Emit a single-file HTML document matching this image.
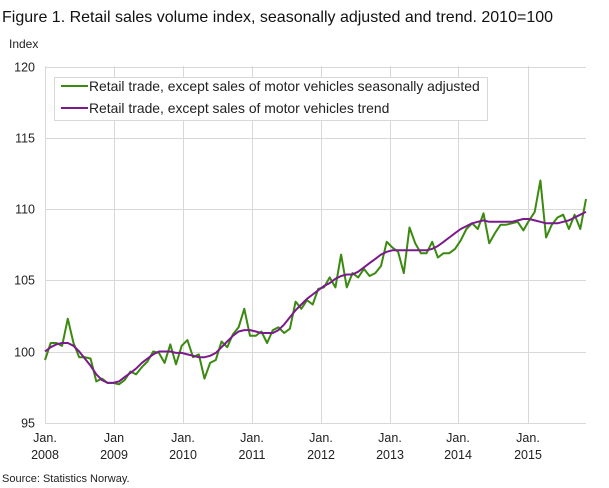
<!DOCTYPE html>
<html><head><meta charset="utf-8"><style>
body{margin:0;background:#fff;}
svg{display:block;font-family:"Liberation Sans",sans-serif;}
</style></head><body>
<svg id="s" width="609" height="488" xmlns="http://www.w3.org/2000/svg">
<text x="2" y="22" font-size="16" fill="#111">Figure 1. Retail sales volume index, seasonally adjusted and trend. 2010=100</text>
<text x="9" y="48" font-size="12" fill="#222">Index</text>
<g id="grid" stroke="#d8d8d8" stroke-width="1"></g>
<g id="lab" font-size="12.5" fill="#222"></g>
<polyline id="g" fill="none" stroke="#3a8a0f" stroke-width="2" stroke-linejoin="round"/>
<polyline id="p" fill="none" stroke="#7a1a8c" stroke-width="2" stroke-linejoin="round"/>
<rect x="54.5" y="77.5" width="433" height="43" fill="#fff" stroke="#d8d8d8"/>
<line x1="61" y1="86" x2="88" y2="86" stroke="#3a8a0f" stroke-width="2"/>
<text x="89" y="91" font-size="13.9" fill="#222">Retail trade, except sales of motor vehicles seasonally adjusted</text>
<line x1="61" y1="108" x2="88" y2="108" stroke="#7a1a8c" stroke-width="2"/>
<text x="89" y="113" font-size="13.9" fill="#222">Retail trade, except sales of motor vehicles trend</text>
<text x="2" y="482" font-size="11" fill="#222">Source: Statistics Norway.</text>
</svg>
<script>
var gv=[99.4,100.6,100.6,100.4,102.3,100.6,99.6,99.6,99.5,97.9,98.1,97.8,
97.8,97.7,98.0,98.6,98.4,98.9,99.3,100.0,99.9,99.2,100.5,99.1,
100.4,100.8,99.6,99.8,98.1,99.2,99.4,100.7,100.3,101.2,101.7,103.0,
101.1,101.1,101.4,100.6,101.5,101.7,101.3,101.6,103.5,103.0,103.6,103.3,
104.4,104.5,105.2,104.5,106.8,104.5,105.5,105.2,105.8,105.3,105.5,106.0,
107.7,107.3,107.0,105.5,108.7,107.6,106.9,106.9,107.7,106.6,106.9,106.9,
107.2,107.8,108.6,109.0,108.6,109.7,107.6,108.3,108.9,108.9,109.0,109.1,
108.5,109.2,109.8,112.0,108.0,108.9,109.4,109.6,108.6,109.6,108.6,110.7];
var pv=[100.0,100.3,100.5,100.6,100.6,100.4,100.0,99.5,99.0,98.4,98.0,97.8,
97.8,97.9,98.2,98.5,98.8,99.2,99.5,99.8,100.0,100.0,100.0,99.9,
99.9,99.8,99.7,99.6,99.6,99.7,99.9,100.3,100.7,101.1,101.4,101.5,
101.5,101.4,101.3,101.3,101.3,101.5,101.9,102.4,102.9,103.3,103.7,104.0,
104.3,104.6,104.8,105.1,105.3,105.4,105.4,105.6,105.9,106.2,106.5,106.8,
107.0,107.1,107.1,107.1,107.1,107.1,107.1,107.1,107.2,107.4,107.7,108.0,
108.3,108.6,108.8,109.0,109.1,109.2,109.1,109.1,109.1,109.1,109.1,109.2,
109.3,109.3,109.2,109.1,109.0,109.0,109.0,109.1,109.2,109.4,109.6,109.8];
function X(i){return 45+i*(541/95);}
function Y(v){return 351.5-(v-100)*14.25;}
document.getElementById('g').setAttribute('points',gv.map((v,i)=>X(i).toFixed(1)+','+Y(v).toFixed(1)).join(' '));
document.getElementById('p').setAttribute('points',pv.map((v,i)=>X(i).toFixed(1)+','+Y(v).toFixed(1)).join(' '));
var ns='http://www.w3.org/2000/svg',gr=document.getElementById('grid'),lb=document.getElementById('lab');
function el(p,t,a,txt){var e=document.createElementNS(ns,t);for(var k in a)e.setAttribute(k,a[k]);if(txt)e.textContent=txt;p.appendChild(e);}
[95,100,105,110,115,120].forEach(v=>{var y=Math.round(Y(v))+0.5;el(gr,'line',{x1:45,x2:586,y1:y,y2:y});el(lb,'text',{x:35,y:y+4,'text-anchor':'end'},String(v));});
var xs=[45,114,183,252,321,390,458,528],yr=[2008,2009,2010,2011,2012,2013,2014,2015];
xs.forEach((x,k)=>{el(gr,'line',{x1:x+0.5,x2:x+0.5,y1:66,y2:423});
el(lb,'text',{x:x,y:442,'text-anchor':'middle'},k==1?'Jan':'Jan.');
el(lb,'text',{x:x,y:459,'text-anchor':'middle'},String(yr[k]));});
</script>
</body></html>
